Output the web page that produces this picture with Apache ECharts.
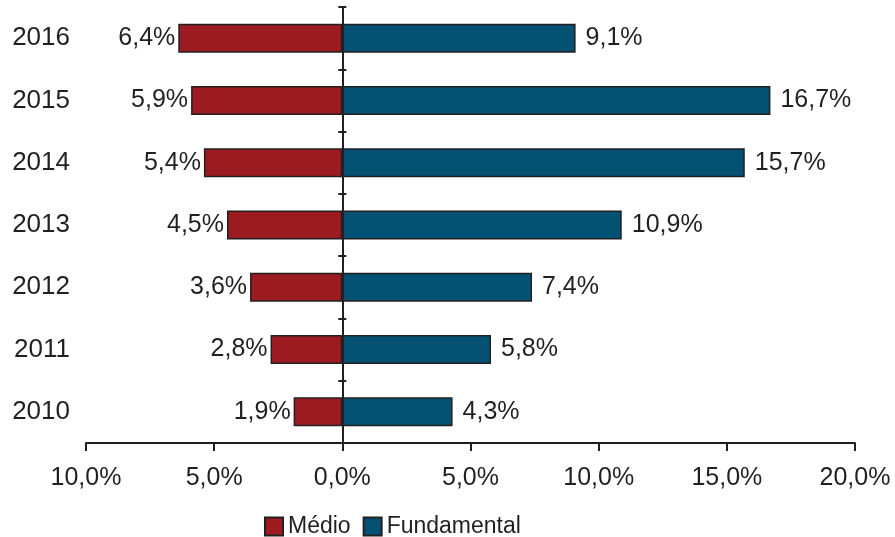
<!DOCTYPE html>
<html><head><meta charset="utf-8">
<script src="https://cdn.jsdelivr.net/npm/echarts@6/dist/echarts.min.js"></script>
<style>html,body{margin:0;padding:0;background:#fff}#c{width:895px;height:537px}</style>
</head><body><div id="c"></div>
<script>
const years = ['2010','2011','2012','2013','2014','2015','2016'];
const medio = [1.9, 2.8, 3.6, 4.5, 5.4, 5.9, 6.4];
const fundamental = [4.3, 5.8, 7.4, 10.9, 15.7, 16.7, 9.1];
const xTicks = [-10, -5, 0, 5, 10, 15, 20];

const FONT = '"Liberation Sans", Arial, sans-serif';
const TXT = '#231f20';
const fmt = v => Math.abs(v).toFixed(1).replace('.', ',') + '%';

const chart = echarts.init(document.getElementById('c'));
chart.setOption({
  animation: false,
  backgroundColor: '#fff',
  grid: { left: 86, right: 40, top: 7, bottom: 94, containLabel: false, outerBoundsMode: 'none' },
  legend: {
    left: 259, top: 510,
    itemWidth: 18, itemHeight: 18, itemGap: 12,
    icon: 'rect',
    textStyle: { fontFamily: FONT, fontSize: 23, color: TXT },
    data: ['Médio', 'Fundamental']
  },
  xAxis: [
    {
      type: 'value', min: xTicks[0], max: xTicks[xTicks.length - 1], interval: 5,
      axisLine: { show: true, onZero: false, lineStyle: { color: TXT, width: 2 } },
      axisTick: { show: true, length: 8, lineStyle: { color: TXT, width: 2 } },
      splitLine: { show: false },
      axisLabel: { margin: 23, fontFamily: FONT, fontSize: 25, color: TXT, formatter: fmt }
    },
    {
      type: 'value', min: xTicks[0], max: xTicks[xTicks.length - 1], interval: 5,
      position: 'top',
      axisLine: { show: false, onZero: false }, axisTick: { show: false },
      splitLine: { show: false }, axisLabel: { show: false }
    }
  ],
  yAxis: [
    {
      type: 'category', data: years, position: 'left',
      axisLine: { show: false, onZero: false },
      axisTick: { show: false },
      axisLabel: { margin: 16, fontFamily: FONT, fontSize: 26, color: TXT }
    },
    {
      type: 'category', data: years, position: 'right',
      axisLine: { show: true, onZero: true, onZeroAxisIndex: 0, lineStyle: { color: TXT, width: 2 } },
      axisTick: { show: true, length: 4, lineStyle: { color: TXT, width: 2 } },
      axisLabel: { show: false }
    },
    {
      type: 'category', data: years, position: 'right',
      axisLine: { show: false, onZero: true, onZeroAxisIndex: 1 },
      axisTick: { show: true, inside: true, length: 4, lineStyle: { color: TXT, width: 2 } },
      axisLabel: { show: false }
    }
  ],
  series: [
    {
      name: 'Médio', type: 'bar', stack: 'a', barWidth: 29,
      data: medio.map(v => -v),
      itemStyle: { color: '#9b1b20', borderColor: '#231f20', borderWidth: 1.5 },
      label: { show: true, position: 'left', distance: 3, fontFamily: FONT, fontSize: 25, color: TXT,
               formatter: p => fmt(p.value) }
    },
    {
      name: 'Fundamental', type: 'bar', stack: 'a', barWidth: 29,
      data: fundamental,
      itemStyle: { color: '#045273', borderColor: '#231f20', borderWidth: 1.5 },
      label: { show: true, position: 'right', distance: 10, fontFamily: FONT, fontSize: 25, color: TXT,
               formatter: p => fmt(p.value) }
    }
  ]
});
</script>
</body></html>
